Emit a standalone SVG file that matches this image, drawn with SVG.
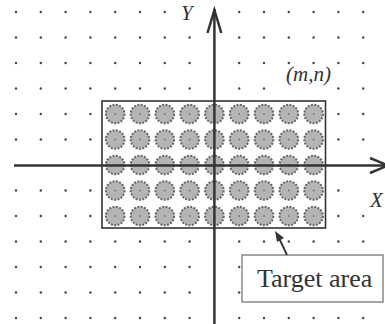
<svg xmlns="http://www.w3.org/2000/svg" width="385" height="324" viewBox="0 0 385 324">
<defs>
<style>
.dot{fill:#444}
.c{fill:#b4b4b4;stroke:#666;stroke-width:2;stroke-dasharray:2 1.4}
.cc{fill:#777}
.ax{stroke:#333;stroke-width:2.5;fill:none}
.lbl{font-family:"Liberation Serif",serif;font-style:italic;fill:#333}
</style>
<g id="d"><circle r="1.2" class="dot"/></g>
<g id="t"><circle r="9.3" class="c"/><circle r="0.9" class="cc"/></g>
</defs>
<rect width="385" height="324" fill="#fff"/>
<g id="grid">
<g id="dots">
<use href="#d" x="16" y="12"/><use href="#d" x="40.8" y="12"/><use href="#d" x="65.6" y="12"/><use href="#d" x="90.4" y="12"/><use href="#d" x="115.2" y="12"/><use href="#d" x="140" y="12"/><use href="#d" x="164.8" y="12"/><use href="#d" x="239.2" y="12"/><use href="#d" x="264" y="12"/><use href="#d" x="288.8" y="12"/><use href="#d" x="313.6" y="12"/><use href="#d" x="338.4" y="12"/><use href="#d" x="363.2" y="12"/>
<use href="#d" x="16" y="37.5"/><use href="#d" x="40.8" y="37.5"/><use href="#d" x="65.6" y="37.5"/><use href="#d" x="90.4" y="37.5"/><use href="#d" x="115.2" y="37.5"/><use href="#d" x="140" y="37.5"/><use href="#d" x="164.8" y="37.5"/><use href="#d" x="189.6" y="37.5"/><use href="#d" x="239.2" y="37.5"/><use href="#d" x="264" y="37.5"/><use href="#d" x="288.8" y="37.5"/><use href="#d" x="313.6" y="37.5"/><use href="#d" x="338.4" y="37.5"/><use href="#d" x="363.2" y="37.5"/>
<use href="#d" x="16" y="63"/><use href="#d" x="40.8" y="63"/><use href="#d" x="65.6" y="63"/><use href="#d" x="90.4" y="63"/><use href="#d" x="115.2" y="63"/><use href="#d" x="140" y="63"/><use href="#d" x="164.8" y="63"/><use href="#d" x="189.6" y="63"/><use href="#d" x="239.2" y="63"/><use href="#d" x="264" y="63"/><use href="#d" x="288.8" y="63"/><use href="#d" x="313.6" y="63"/><use href="#d" x="338.4" y="63"/><use href="#d" x="363.2" y="63"/>
<use href="#d" x="16" y="88.5"/><use href="#d" x="40.8" y="88.5"/><use href="#d" x="65.6" y="88.5"/><use href="#d" x="90.4" y="88.5"/><use href="#d" x="115.2" y="88.5"/><use href="#d" x="140" y="88.5"/><use href="#d" x="164.8" y="88.5"/><use href="#d" x="189.6" y="88.5"/><use href="#d" x="239.2" y="88.5"/><use href="#d" x="264" y="88.5"/><use href="#d" x="338.4" y="88.5"/><use href="#d" x="363.2" y="88.5"/>
<use href="#d" x="16" y="114"/><use href="#d" x="40.8" y="114"/><use href="#d" x="65.6" y="114"/><use href="#d" x="90.4" y="114"/><use href="#d" x="338.4" y="114"/><use href="#d" x="363.2" y="114"/>
<use href="#d" x="16" y="139.5"/><use href="#d" x="40.8" y="139.5"/><use href="#d" x="65.6" y="139.5"/><use href="#d" x="90.4" y="139.5"/><use href="#d" x="338.4" y="139.5"/><use href="#d" x="363.2" y="139.5"/>
<use href="#d" x="16" y="190.5"/><use href="#d" x="40.8" y="190.5"/><use href="#d" x="65.6" y="190.5"/><use href="#d" x="90.4" y="190.5"/><use href="#d" x="338.4" y="190.5"/>
<use href="#d" x="16" y="216"/><use href="#d" x="40.8" y="216"/><use href="#d" x="65.6" y="216"/><use href="#d" x="90.4" y="216"/><use href="#d" x="338.4" y="216"/><use href="#d" x="363.2" y="216"/>
<use href="#d" x="16" y="241.5"/><use href="#d" x="40.8" y="241.5"/><use href="#d" x="65.6" y="241.5"/><use href="#d" x="90.4" y="241.5"/><use href="#d" x="115.2" y="241.5"/><use href="#d" x="140" y="241.5"/><use href="#d" x="164.8" y="241.5"/><use href="#d" x="189.6" y="241.5"/><use href="#d" x="239.2" y="241.5"/><use href="#d" x="264" y="241.5"/><use href="#d" x="288.8" y="241.5"/><use href="#d" x="313.6" y="241.5"/><use href="#d" x="338.4" y="241.5"/><use href="#d" x="363.2" y="241.5"/>
<use href="#d" x="16" y="267"/><use href="#d" x="40.8" y="267"/><use href="#d" x="65.6" y="267"/><use href="#d" x="90.4" y="267"/><use href="#d" x="115.2" y="267"/><use href="#d" x="140" y="267"/><use href="#d" x="164.8" y="267"/><use href="#d" x="189.6" y="267"/><use href="#d" x="239.2" y="267"/>
<use href="#d" x="16" y="292.5"/><use href="#d" x="40.8" y="292.5"/><use href="#d" x="65.6" y="292.5"/><use href="#d" x="90.4" y="292.5"/><use href="#d" x="115.2" y="292.5"/><use href="#d" x="140" y="292.5"/><use href="#d" x="164.8" y="292.5"/><use href="#d" x="189.6" y="292.5"/><use href="#d" x="239.2" y="292.5"/>
<use href="#d" x="16" y="318"/><use href="#d" x="40.8" y="318"/><use href="#d" x="65.6" y="318"/><use href="#d" x="90.4" y="318"/><use href="#d" x="115.2" y="318"/><use href="#d" x="140" y="318"/><use href="#d" x="164.8" y="318"/><use href="#d" x="189.6" y="318"/><use href="#d" x="239.2" y="318"/><use href="#d" x="264" y="318"/><use href="#d" x="288.8" y="318"/><use href="#d" x="313.6" y="318"/><use href="#d" x="338.4" y="318"/><use href="#d" x="363.2" y="318"/>
</g>
</g>
<g id="target-rect">
<rect x="102" y="101" width="223.5" height="127" fill="#fff" stroke="#333" stroke-width="1.6"/>
<g id="targets">
<use href="#t" x="115.2" y="114"/><use href="#t" x="140" y="114"/><use href="#t" x="164.8" y="114"/><use href="#t" x="189.6" y="114"/><use href="#t" x="214.4" y="114"/><use href="#t" x="239.2" y="114"/><use href="#t" x="264" y="114"/><use href="#t" x="288.8" y="114"/><use href="#t" x="313.6" y="114"/>
<use href="#t" x="115.2" y="139.5"/><use href="#t" x="140" y="139.5"/><use href="#t" x="164.8" y="139.5"/><use href="#t" x="189.6" y="139.5"/><use href="#t" x="214.4" y="139.5"/><use href="#t" x="239.2" y="139.5"/><use href="#t" x="264" y="139.5"/><use href="#t" x="288.8" y="139.5"/><use href="#t" x="313.6" y="139.5"/>
<use href="#t" x="115.2" y="165"/><use href="#t" x="140" y="165"/><use href="#t" x="164.8" y="165"/><use href="#t" x="189.6" y="165"/><use href="#t" x="214.4" y="165"/><use href="#t" x="239.2" y="165"/><use href="#t" x="264" y="165"/><use href="#t" x="288.8" y="165"/><use href="#t" x="313.6" y="165"/>
<use href="#t" x="115.2" y="190.5"/><use href="#t" x="140" y="190.5"/><use href="#t" x="164.8" y="190.5"/><use href="#t" x="189.6" y="190.5"/><use href="#t" x="214.4" y="190.5"/><use href="#t" x="239.2" y="190.5"/><use href="#t" x="264" y="190.5"/><use href="#t" x="288.8" y="190.5"/><use href="#t" x="313.6" y="190.5"/>
<use href="#t" x="115.2" y="216"/><use href="#t" x="140" y="216"/><use href="#t" x="164.8" y="216"/><use href="#t" x="189.6" y="216"/><use href="#t" x="214.4" y="216"/><use href="#t" x="239.2" y="216"/><use href="#t" x="264" y="216"/><use href="#t" x="288.8" y="216"/><use href="#t" x="313.6" y="216"/>
</g>
</g>
<g id="axes">
<line class="ax" x1="214.4" y1="9" x2="214.4" y2="324"/>
<polyline class="ax" points="207.5,33 214.4,10 221.3,33"/>
<line class="ax" x1="14" y1="165.5" x2="385" y2="165.5"/>
<polyline class="ax" points="370,158 388,165.5 370,173"/>
</g>
<text class="lbl" x="181" y="20" font-size="21">Y</text>
<text class="lbl" x="370" y="207" font-size="21">X</text>
<text class="lbl" x="286" y="81" font-size="21">(m,n)</text>
<g id="target-area">
<rect x="242" y="255" width="141" height="47" fill="#fff" stroke="#777" stroke-width="1.3"/>
<text x="257" y="287" font-family="Liberation Serif,serif" font-size="26" fill="#333">Target area</text>
</g>
<g id="connectors">
<line x1="287" y1="255" x2="279" y2="238" stroke="#333" stroke-width="1.8"/>
<polygon points="275,231 284,238 277,242" fill="#333"/>
</g>
</svg>
